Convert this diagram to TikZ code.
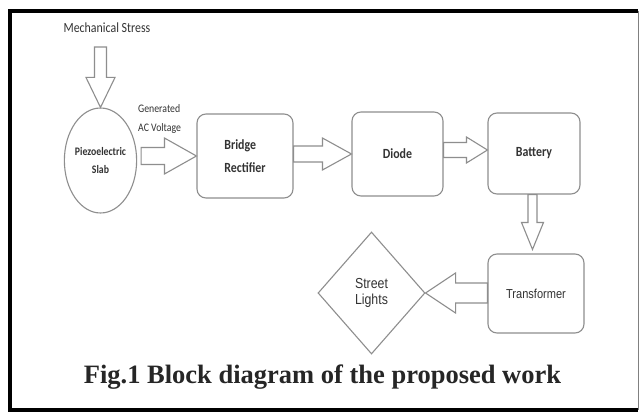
\documentclass[tikz,border=0pt]{standalone}
\usepackage{fontspec}
\setmainfont{Liberation Serif}
\newfontfamily\calfont[FakeStretch=0.85]{Carlito}
\newfontfamily\arifont[FakeStretch=0.85]{Liberation Sans}
\usetikzlibrary{shapes.geometric,calc}
\definecolor{linegray}{HTML}{8E8E8E}
\definecolor{txtgray}{HTML}{333333}
% block arrow pointing right/left: start, tip, shaft half, head half, head length (signed)
\newcommand\hblockarrow[5]{\draw[barrow] let \p1=#1, \p2=#2 in
  (\x1,{\y2+#3pt}) -- ({\x2-(#5pt)},{\y2+#3pt}) -- ({\x2-(#5pt)},{\y2+#4pt}) -- (\x2,\y2)
  -- ({\x2-(#5pt)},{\y2-#4pt}) -- ({\x2-(#5pt)},{\y2-#3pt}) -- (\x1,{\y2-#3pt}) -- cycle;}
% block arrow pointing down: start, tip, shaft half, head half, head length
\newcommand\vblockarrow[5]{\draw[barrow] let \p1=#1, \p2=#2 in
  ({\x2-#3pt},\y1) -- ({\x2-#3pt},{\y2+#5pt}) -- ({\x2-#4pt},{\y2+#5pt}) -- (\x2,\y2)
  -- ({\x2+#4pt},{\y2+#5pt}) -- ({\x2+#3pt},{\y2+#5pt}) -- ({\x2+#3pt},\y1) -- cycle;}
\begin{document}
\begin{tikzpicture}[x=1pt,y=-1pt,
  box/.style={draw=linegray, line width=1.1pt, rounded corners=9pt, fill=white, inner sep=0pt, text=txtgray},
  barrow/.style={draw=linegray, line width=1.1pt, fill=white, line join=miter},
  lbl/.style={text=txtgray, inner sep=0pt},
  boldlbl/.style={font=\calfont\bfseries\fontsize{14}{23}\selectfont}
]
\useasboundingbox (0,0) rectangle (641,412);
\fill[white] (0,0) rectangle (641,412);
% frame
\draw[line width=3.5pt] (638,11) -- (10,11) -- (10,410) -- (638,410);
\draw[gray, line width=1pt] (638,11) -- (638,410);

% nodes
\node[draw=linegray, line width=1.1pt, ellipse, minimum width=59pt, minimum height=105pt, inner sep=0pt,
      align=center, text=txtgray, font=\calfont\bfseries\fontsize{11.5}{18}\selectfont] (pz) at (100.5,160.5) {\raisebox{-5pt}{Piezoelectric}\\\raisebox{-5pt}{Slab}};
\node[box, boldlbl, minimum width=96pt, minimum height=84pt, align=left] (br) at (245,156) {Bridge\\Rectifier};
\node[box, boldlbl, minimum width=91pt, minimum height=84pt] (di) at (397.5,154) {Diode};
\node[box, boldlbl, minimum width=92pt, minimum height=81pt] (bat) at (534,153.5) {Battery};
\node[box, minimum width=96pt, minimum height=79pt, font=\arifont\fontsize{13}{16}\selectfont] (tr) at (536,293.5) {Transformer};
\node[diamond, draw=linegray, line width=1.1pt, minimum width=107pt, minimum height=122pt, inner sep=0pt,
      aspect=0.877, align=left, text=txtgray, font=\arifont\fontsize{14.5}{16}\selectfont] (sl) at (371.5,293) {Street\\Lights};

% labels
\node[lbl, font=\calfont\fontsize{14}{16}\selectfont] (ms) at (107,28) {Mechanical Stress};
\coordinate (mstop) at (101,47);
\node[lbl, anchor=west, align=left, font=\calfont\fontsize{11.5}{19}\selectfont] (gen) at (138,118.5) {Generated\\AC Voltage};
\node[anchor=base, inner sep=0pt, text=black!85, font=\bfseries\fontsize{26.5}{30}\selectfont] (cap) at (322.5,383) {Fig.1 Block diagram of the proposed work};

% block arrows
\vblockarrow{(mstop)}{(pz.north)}{6}{14.5}{30}
\hblockarrow{($(pz.east)+(4,0)$)}{(br.west)}{8.5}{18}{32}
\hblockarrow{(br.east)}{(di.west)}{8}{16}{29}
\hblockarrow{(di.east)}{($(bat.west)+(0,-3.5)$)}{7.5}{13}{21}
\vblockarrow{($(bat.south)+(-1.5,0)$)}{($(tr.north)+(-3.5,-4)$)}{4.5}{11}{27}
\hblockarrow{(tr.west)}{(sl.east)}{10}{20}{-30}
\end{tikzpicture}
\end{document}
